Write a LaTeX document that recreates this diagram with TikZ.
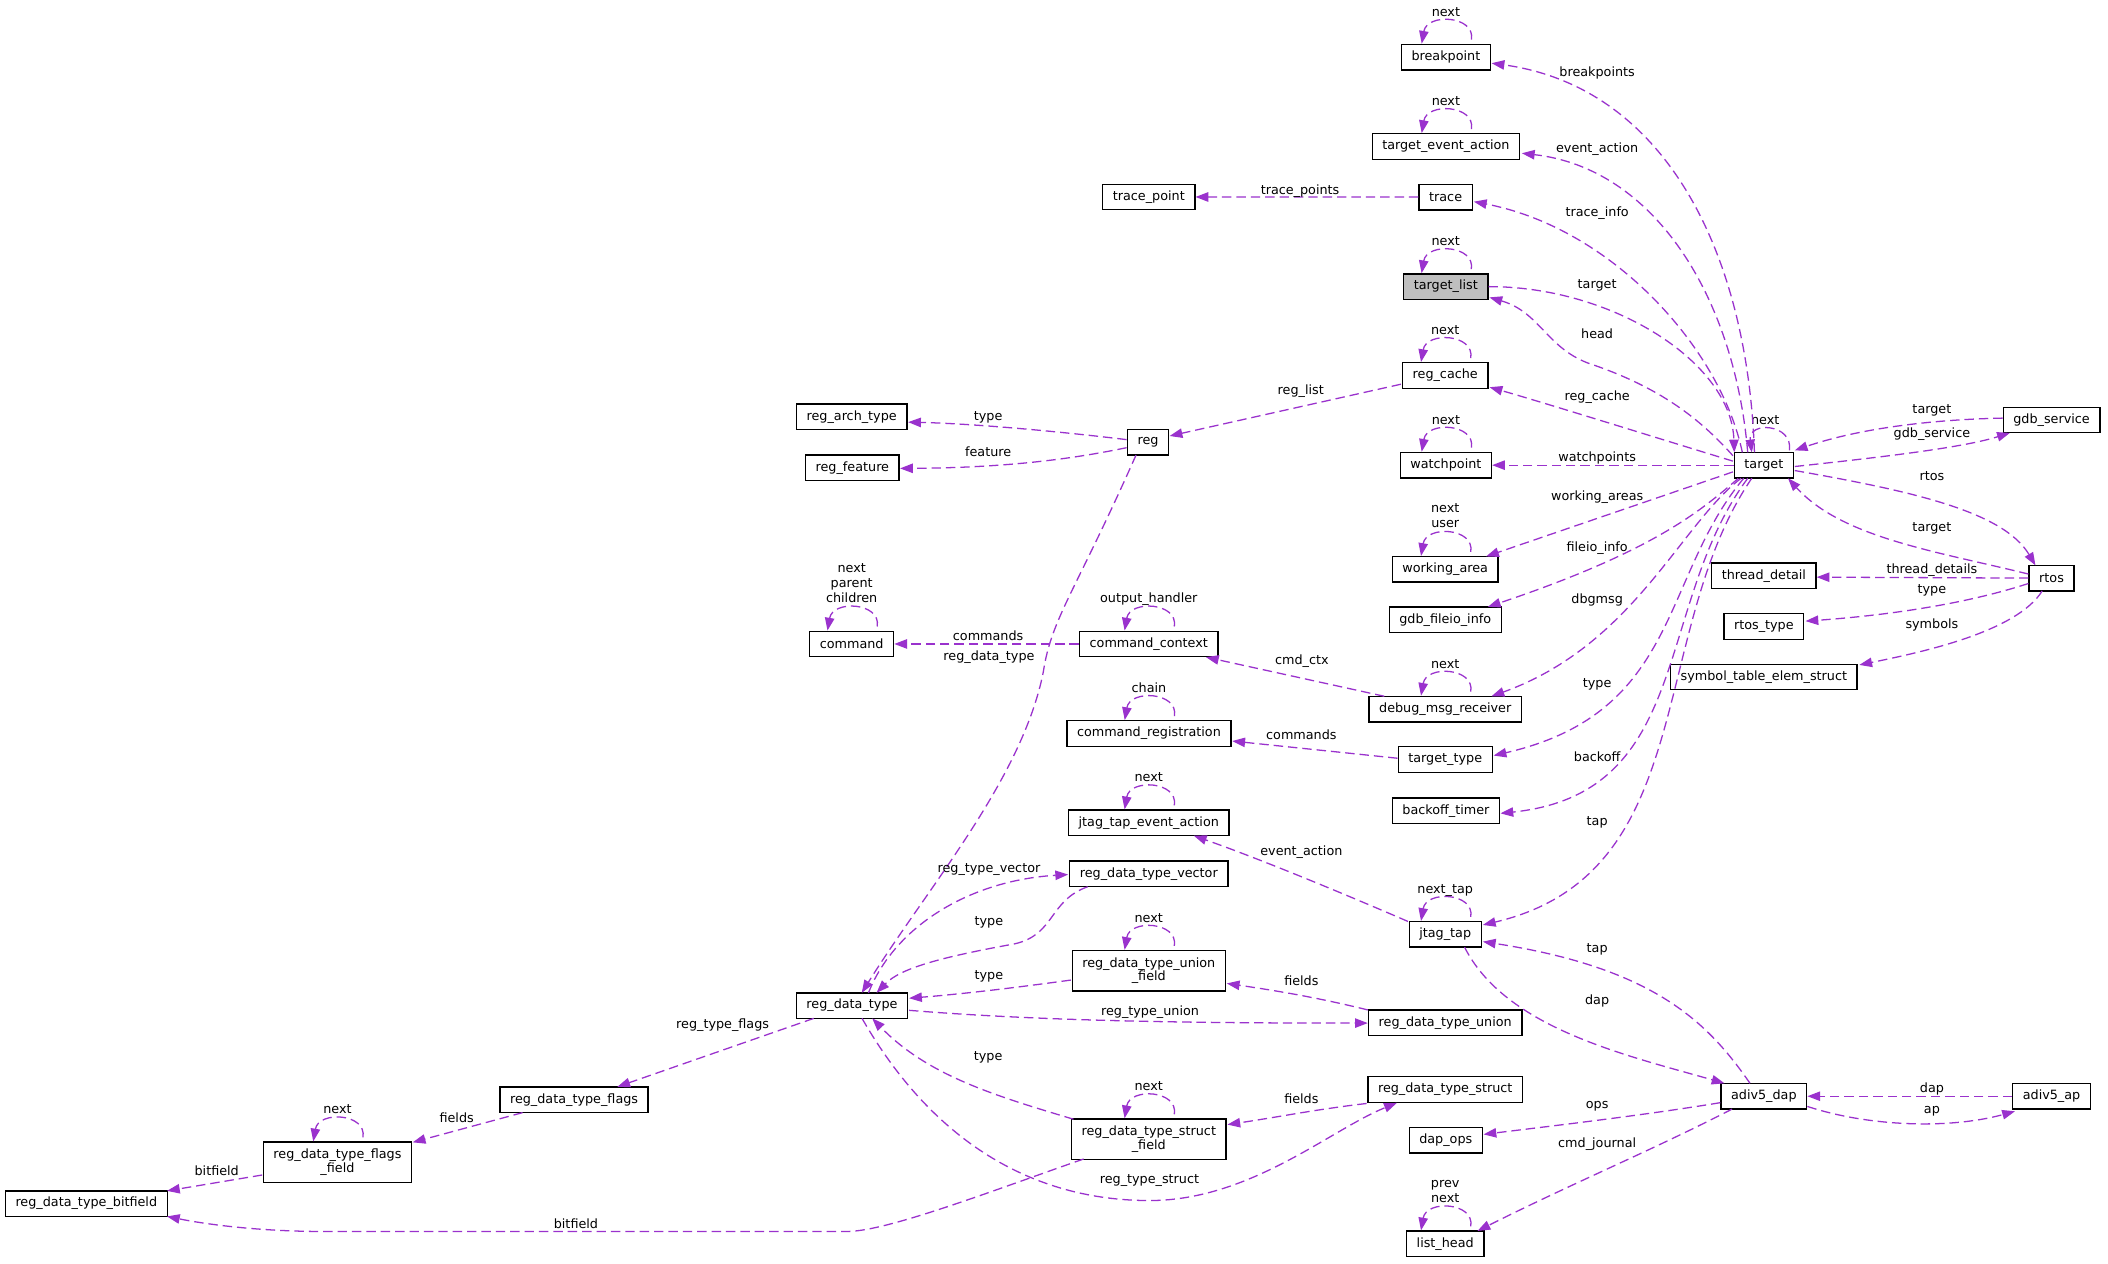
\documentclass[tikz,border=0pt]{standalone}
\usepackage{fontspec}
\setmainfont{DejaVu Sans}
\usetikzlibrary{arrows.meta,calc}
\definecolor{edgec}{HTML}{9A32CD}
\tikzset{
 box/.style={draw=black, fill=white, line width=1pt, inner xsep=7.5pt, inner ysep=0pt,
   minimum height=19pt, font=\fontsize{9.5}{10.1}\selectfont, align=center},
 box2/.style={box, minimum height=30pt},
 rel/.style={draw=edgec, line width=0.95pt, dash pattern=on 7pt off 3.7pt,
   -{Triangle[length=9.5pt,width=7pt]}},
 lbl/.style={font=\fontsize{9.5}{10}\selectfont, anchor=base, inner sep=0pt},
 lbl2/.style={font=\fontsize{9.5}{11.2}\selectfont, anchor=south, inner sep=0pt, align=center},
}
\newcommand\myloop[3][lbl]{%
 \draw[rel] ($(#2.north)+(19,-3)$) .. controls ($(#2.north)+(22,-21)$) and ($(#2.north)+(-14,-23)$) .. ($(#2.north)+(-18,0)$);
 \node[#1] at ($(#2.north)+(0,-20.5)$) {#3};
}
\begin{document}
\begin{tikzpicture}[x=1pt,y=-1pt]
\useasboundingbox[fill=white] (0,0) rectangle (1568,939.5);
% nodes
\node[box] (bp) at (1075.5,42.5) {breakpoint};
\node[box] (tea) at (1075.5,109) {target\_event\_action};
\node[box] (trace) at (1075.3,146.6) {trace};
\node[box] (tp) at (854.5,146.5) {trace\_point};
\node[box, fill=gray!50] (tl) at (1075.4,213.2) {target\_list};
\node[box] (rc) at (1075,279.3) {reg\_cache};
\node[box] (rat) at (633.5,310) {reg\_arch\_type};
\node[box] (gdbs) at (1526,312.4) {gdb\_service};
\node[box] (reg) at (854,329) {reg};
\node[box] (wp) at (1075.5,346) {watchpoint};
\node[box] (tgt) at (1312,346) {target};
\node[box] (rf) at (634,348) {reg\_feature};
\node[box] (wa) at (1075,423.5) {working\_area};
\node[box] (td) at (1312,428.3) {thread\_detail};
\node[box] (rtos) at (1526,430) {rtos};
\node[box] (gfi) at (1075,461) {gdb\_fileio\_info};
\node[box] (rt) at (1312,466) {rtos\_type};
\node[box] (cmd) at (633.5,479) {command};
\node[box] (cc) at (854.5,479) {command\_context};
\node[box] (stes) at (1312,503.6) {symbol\_table\_elem\_struct};
\node[box] (dmr) at (1075,527.5) {debug\_msg\_receiver};
\node[box] (cr) at (854.6,545.6) {command\_registration};
\node[box] (tt) at (1075,565) {target\_type};
\node[box] (bt) at (1075.5,603) {backoff\_timer};
\node[box] (jtea) at (854.5,612) {jtag\_tap\_event\_action};
\node[box] (rdtv) at (854.5,650) {reg\_data\_type\_vector};
\node[box] (jt) at (1075,695) {jtag\_tap};
\node[box2] (rdtuf) at (854.5,722) {reg\_data\_type\_union\\\_field};
\node[box] (rdt) at (633.7,748) {reg\_data\_type};
\node[box] (rdtu) at (1075,760.7) {reg\_data\_type\_union};
\node[box] (rdts) at (1075,810.4) {reg\_data\_type\_struct};
\node[box] (dap) at (1312,815.4) {adiv5\_dap};
\node[box] (ap) at (1526,815.4) {adiv5\_ap};
\node[box] (rdtf) at (427,818) {reg\_data\_type\_flags};
\node[box2] (rdtsf) at (854.5,847.3) {reg\_data\_type\_struct\\\_field};
\node[box] (ops) at (1075.4,848) {dap\_ops};
\node[box2] (rdtff) at (251,864.5) {reg\_data\_type\_flags\\\_field};
\node[box] (bf) at (64.2,895.3) {reg\_data\_type\_bitfield};
\node[box] (lh) at (1075,925.2) {list\_head};
% self loops
\myloop{bp}{next}
\myloop{tea}{next}
\myloop{tl}{next}
\myloop{rc}{next}
\myloop{wp}{next}
\myloop[lbl2]{wa}{next\\user}
\myloop[lbl2]{cmd}{next\\parent\\children}
\myloop{cc}{output\_handler}
\myloop{dmr}{next}
\myloop{cr}{chain}
\myloop{jtea}{next}
\myloop{jt}{next\_tap}
\myloop{rdtuf}{next}
\myloop{rdtsf}{next}
\myloop{rdtff}{next}
\myloop[lbl2]{lh}{prev\\next}
\draw[rel] ($(tgt)+(19,-11)$) .. controls ($(tgt)+(22,-31)$) and ($(tgt)+(-12,-33)$) .. ($(tgt)+(-9,-9.5)$);
\node[lbl] at (1313,316) {next};
% edges from target
\draw[rel] ($(tgt)+(-7,-9.5)$) .. controls (1300,190) and (1240,65) .. ($(bp)+(34,4.5)$);
\draw[rel] ($(tgt)+(-12,-9.5)$) .. controls (1290,220) and (1230,125) .. ($(tea)+(56.5,5)$);
\draw[rel] ($(tgt)+(-16,-9.5)$) .. controls (1280,260) and (1200,170) .. ($(trace)+(21,3.4)$);
\draw[rel] (trace) -- (tp);
\draw[rel] (tl.east) .. controls (1200,213) and (1288,270) .. ($(tgt)+(-22,-9.5)$);
\draw[rel] ($(tgt)+(-23,-7)$) .. controls (1265,312) and (1235,288) .. (1181,270) .. controls (1150,258) and (1145,232) .. ($(tl)+(32.5,8)$);
\draw[rel] ($(tgt)+(-23,-3)$) .. controls (1230,325) and (1150,300) .. ($(rc)+(33,8.7)$);
\draw[rel] ($(rc)+(-33,6.5)$) -- ($(reg)+(16,-4.7)$);
\draw[rel] ($(reg)+(-16,-2)$) .. controls (780,320) and (720,315) .. ($(rat)+(42,4)$);
\draw[rel] ($(reg)+(-16,4)$) .. controls (790,343) and (740,348) .. ($(rf)+(35.5,0.4)$);
\draw[rel] ($(reg)+(-9,9.5)$) .. controls (800,440) and (782,460) .. (776,500) .. controls (760,580) and (690,660) .. ($(rdt)+(7.3,-9.5)$);
\draw[rel] (tgt) -- (wp);
\draw[rel] ($(gdbs)+(-36.4,-1.4)$) .. controls (1440,312) and (1385,318) .. ($(tgt)+(23,-11)$);
\draw[rel] ($(tgt)+(23,1)$) .. controls (1400,340) and (1460,333) .. ($(gdbs)+(-31,9.6)$);
\draw[rel] ($(tgt)+(23,4)$) .. controls (1420,365) and (1490,380) .. ($(rtos)+(-12,-9.5)$);
\draw[rel] ($(rtos)+(-17.2,-3)$) .. controls (1440,410) and (1370,400) .. ($(tgt)+(18,9.8)$);
\draw[rel] ($(tgt)+(-23,5)$) -- ($(wa)+(30.4,-9.6)$);
\draw[rel] ($(tgt)+(-19,9.8)$) .. controls (1265,380) and (1230,410) .. ($(gfi)+(31.7,-9.6)$);
\draw[rel] ($(tgt)+(-17,9.8)$) .. controls (1250,390) and (1215,480) .. ($(dmr)+(34.4,-9.6)$);
\draw[rel] ($(tgt)+(-15,9.8)$) .. controls (1235,430) and (1250,530) .. ($(tt)+(36,-3)$);
\draw[rel] ($(tgt)+(-12,9.8)$) .. controls (1230,450) and (1260,590) .. ($(bt)+(40.6,2)$);
\draw[rel] ($(tgt)+(-9,9.8)$) .. controls (1225,470) and (1265,650) .. ($(jt)+(28,-7)$);
% rtos
\draw[rel] (rtos.west) -- ($(td.east)+(0,1)$);
\draw[rel] ($(rtos)+(-17.2,4)$) .. controls (1460,450) and (1400,458) .. ($(rt)+(31,-4)$);
\draw[rel] ($(rtos)+(-7,9.6)$) .. controls (1500,470) and (1430,485) .. ($(stes)+(71,-9)$);
% middle
\draw[rel] ($(dmr)+(-45.3,-9.6)$) -- ($(cc)+(42.5,9.8)$);
\draw[rel] (cc) -- (cmd);
\draw[rel] ($(tt)+(-35.5,-1)$) -- ($(cr)+(62,5.6)$);
\draw[rel] ($(jt)+(-27.7,-9.6)$) .. controls (1000,665) and (940,640) .. ($(jtea)+(33.5,9.6)$);
\draw[rel] ($(rdt)+(12.3,-9.5)$) .. controls (665,690) and (720,655) .. ($(rdtv)+(-60,0.5)$);
\draw[rel] ($(rdtv)+(-45.5,9.6)$) .. controls (780,670) and (785,695) .. (755,702) .. controls (700,712) and (670,720) .. ($(rdt)+(18.3,-9.5)$);
\draw[rel] ($(rdtuf)+(-58,7)$) .. controls (760,734) and (720,739) .. ($(rdt)+(42.5,-5.5)$);
\draw[rel] ($(rdt)+(42.5,3.5)$) .. controls (780,760) and (900,761) .. ($(rdtu)+(-57.6,0.3)$);
\draw[rel] ($(rdtu)+(-57.6,-9.5)$) .. controls (980,742) and (950,737) .. ($(rdtuf)+(58,9.5)$);
\draw[rel] ($(rdt)+(-28.4,9.5)$) -- ($(rdtf)+(32.2,-9.6)$);
\draw[rel] ($(rdtf)+(-38.3,9.6)$) -- ($(rdtff)+(56,-14.8)$);
\draw[rel] ($(rdtff)+(-56,9.5)$) -- ($(bf)+(60,-9.5)$);
\draw[rel] ($(rdtsf)+(-48.5,14.8)$) .. controls (740,885) and (660,916) .. (630,916) -- (240,916) .. controls (200,916) and (160,912) .. ($(bf)+(60,9.5)$);
\draw[rel] ($(rdtsf)+(-56,-14.8)$) .. controls (740,815) and (690,800) .. ($(rdt)+(15.1,9.5)$);
\draw[rel] ($(rdts)+(-58.5,10.4)$) .. controls (980,825) and (950,831) .. ($(rdtsf)+(58.5,-10.8)$);
\draw[rel] ($(rdt)+(7.5,9.5)$) .. controls (700,860) and (780,893) .. (855,893) .. controls (930,893) and (990,840) .. ($(rdts)+(-36,10)$);
% dap
\draw[rel] ($(jt)+(14.4,9.6)$) .. controls (1120,765) and (1210,785) .. ($(dap)+(-29.3,-9.6)$);
\draw[rel] ($(dap)+(-10.3,-9.6)$) .. controls (1270,760) and (1230,720) .. ($(jt)+(28,5.4)$);
\draw[rel] (ap) -- (dap);
\draw[rel] ($(dap)+(32.4,7.6)$) .. controls (1390,838) and (1450,840) .. ($(ap)+(-27.2,11.2)$);
\draw[rel] ($(dap)+(-32.4,4.8)$) .. controls (1220,830) and (1150,838) .. ($(ops)+(28.1,-4.2)$);
\draw[rel] ($(dap)+(-23.7,9.6)$) .. controls (1230,855) and (1170,880) .. ($(lh)+(24,-9.6)$);
% edge labels
\node[lbl] at (1188,56.8) {breakpoints};
\node[lbl] at (1188,113.1) {event\_action};
\node[lbl] at (1188,160.9) {trace\_info};
\node[lbl] at (967,144.4) {trace\_points};
\node[lbl] at (1188,214.5) {target};
\node[lbl] at (1188,251.9) {head};
\node[lbl] at (1188,297.8) {reg\_cache};
\node[lbl] at (967.5,293.5) {reg\_list};
\node[lbl] at (735,313) {type};
\node[lbl] at (735,339.5) {feature};
\node[lbl] at (1188,343.2) {watchpoints};
\node[lbl] at (1437,307.2) {target};
\node[lbl] at (1437,325.3) {gdb\_service};
\node[lbl] at (1437,357.5) {rtos};
\node[lbl] at (1188,372.5) {working\_areas};
\node[lbl] at (1437,395.2) {target};
\node[lbl] at (1188,410.1) {fileio\_info};
\node[lbl] at (1437,426.3) {thread\_details};
\node[lbl] at (1437,441.3) {type};
\node[lbl] at (1188,449.1) {dbgmsg};
\node[lbl] at (1437,467.5) {symbols};
\node[lbl] at (735,476.5) {commands};
\node[lbl] at (735.6,491.5) {reg\_data\_type};
\node[lbl] at (968.4,494.3) {cmd\_ctx};
\node[lbl] at (1188,511.3) {type};
\node[lbl] at (968,549.8) {commands};
\node[lbl] at (1188,566.3) {backoff};
\node[lbl] at (1188,613.9) {tap};
\node[lbl] at (968,636.3) {event\_action};
\node[lbl] at (735.6,649.1) {reg\_type\_vector};
\node[lbl] at (735.6,688.5) {type};
\node[lbl] at (1188,708.4) {tap};
\node[lbl] at (735.6,728.5) {type};
\node[lbl] at (968,732.8) {fields};
\node[lbl] at (1188,747.3) {dap};
\node[lbl] at (855.4,755.4) {reg\_type\_union};
\node[lbl] at (537.5,765.2) {reg\_type\_flags};
\node[lbl] at (735,789) {type};
\node[lbl] at (1437,812.5) {dap};
\node[lbl] at (968,820.7) {fields};
\node[lbl] at (1188,824.7) {ops};
\node[lbl] at (1437,828.5) {ap};
\node[lbl] at (339.7,835.3) {fields};
\node[lbl] at (1188,853.9) {cmd\_journal};
\node[lbl] at (161.2,874) {bitfield};
\node[lbl] at (855,880.5) {reg\_type\_struct};
\node[lbl] at (428.4,913.5) {bitfield};
\end{tikzpicture}
\end{document}
